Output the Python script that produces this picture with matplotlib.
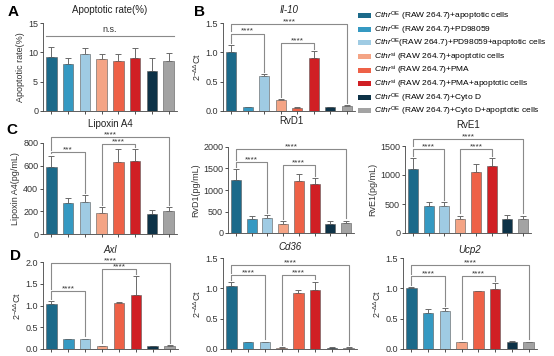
import matplotlib
matplotlib.use("Agg")
import matplotlib.pyplot as plt
import numpy as np
from matplotlib.patches import Patch

plt.rcParams["font.family"] = ["Liberation Sans", "DejaVu Sans"]
plt.rcParams["mathtext.fontset"] = "custom"
plt.rcParams["mathtext.rm"] = "Liberation Sans"
plt.rcParams["mathtext.it"] = "Liberation Sans:italic"
plt.rcParams["mathtext.bf"] = "Liberation Sans:bold"

# ---- data ----
groups = [
    r"$\mathit{Cthr}^{\mathrm{OE}}$ (RAW 264.7)+apoptotic cells",
    r"$\mathit{Cthr}^{\mathrm{OE}}$ (RAW 264.7)+PD98059",
    r"$\mathit{Cthr}^{\mathrm{OE}}$(RAW 264.7)+PD98059+apoptotic cells",
    r"$\mathit{Cthr}^{\mathrm{si}}$ (RAW 264.7)+apoptotic cells",
    r"$\mathit{Cthr}^{\mathrm{si}}$ (RAW 264.7)+PMA",
    r"$\mathit{Cthr}^{\mathrm{si}}$ (RAW 264.7)+PMA+apoptotic cells",
    r"$\mathit{Cthr}^{\mathrm{OE}}$ (RAW 264.7)+Cyto D",
    r"$\mathit{Cthr}^{\mathrm{OE}}$ (RAW 264.7)+Cyto D+apoptotic cells",
]
colors = ["#1c6a8a", "#3599c2", "#9fcbe3", "#f4a485", "#ee6147",
          "#d01f24", "#0d3247", "#a3a3a3"]

apop_mean = [9.15, 7.95, 9.7, 8.8, 8.55, 8.95, 6.75, 8.5]
apop_err = [1.8, 1.0, 1.1, 0.85, 1.1, 1.75, 2.2, 1.45]

il10_mean = [1.0, 0.06, 0.60, 0.18, 0.05, 0.91, 0.06, 0.08]
il10_err = [0.13, 0.01, 0.03, 0.02, 0.01, 0.11, 0.01, 0.02]

lxa4_mean = [590, 270, 280, 185, 630, 645, 175, 200]
lxa4_err = [100, 45, 60, 50, 115, 100, 40, 35]

rvd1_mean = [1230, 330, 360, 220, 1200, 1150, 220, 230]
rvd1_err = [250, 70, 60, 60, 170, 130, 70, 60]

rve1_mean = [1100, 470, 460, 240, 1060, 1150, 250, 240]
rve1_err = [185, 70, 70, 60, 130, 140, 60, 60]

axl_mean = [1.04, 0.23, 0.23, 0.07, 1.05, 1.25, 0.07, 0.07]
axl_err = [0.06, 0.01, 0.01, 0.01, 0.02, 0.42, 0.01, 0.02]

cd36_mean = [1.04, 0.11, 0.11, 0.02, 0.92, 0.98, 0.02, 0.02]
cd36_err = [0.06, 0.01, 0.01, 0.005, 0.06, 0.13, 0.01, 0.01]

ucp2_mean = [1.0, 0.60, 0.63, 0.11, 0.95, 0.99, 0.12, 0.11]
ucp2_err = [0.02, 0.06, 0.04, 0.01, 0.01, 0.09, 0.01, 0.01]

DDCT = r"2$^{-\Delta\Delta}$Ct"

# (title, italic, ylabel, mean, err, yticks, brackets[(i, j, y, label)])
panels = {
    "A": ("Apoptotic rate(%)", False, "Apoptotic rate(%)", apop_mean, apop_err,
          [0, 5, 10, 15], [(0, 7, 12.8, "n.s.")]),
    "B": ("Il-10", True, DDCT, il10_mean, il10_err, [0.0, 0.5, 1.0, 1.5],
          [(0, 2, 1.32, "****"), (3, 5, 1.16, "****"), (0, 7, 1.48, "****")]),
    "C1": ("Lipoxin A4", False, "Lipoxin A4(pg/mL)", lxa4_mean, lxa4_err,
           [0, 200, 400, 600, 800],
           [(0, 2, 720, "***"), (3, 5, 790, "****"), (0, 7, 850, "****")]),
    "C2": ("RvD1", False, "RvD1(pg/mL)", rvd1_mean, rvd1_err,
           [0, 500, 1000, 1500, 2000],
           [(0, 2, 1640, "****"), (3, 5, 1580, "****"), (0, 7, 1946, "****")]),
    "C3": ("RvE1", False, "RvE1(pg/mL)", rve1_mean, rve1_err,
           [0, 500, 1000, 1500],
           [(0, 2, 1455, "****"), (3, 5, 1455, "****"), (0, 7, 1625, "****")]),
    "D1": ("Axl", True, DDCT, axl_mean, axl_err, [0.0, 0.5, 1.0, 1.5, 2.0],
           [(0, 2, 1.33, "****"), (3, 5, 1.83, "****"), (0, 7, 1.98, "****")]),
    "D2": ("Cd36", True, DDCT, cd36_mean, cd36_err, [0.0, 0.5, 1.0, 1.5],
           [(0, 2, 1.22, "****"), (3, 5, 1.22, "****"), (0, 7, 1.39, "****")]),
    "D3": ("Ucp2", True, DDCT, ucp2_mean, ucp2_err, [0.0, 0.5, 1.0, 1.5],
           [(0, 2, 1.20, "****"), (3, 5, 1.20, "****"), (0, 7, 1.38, "****")]),
}

W, H = 554, 356
# axes rects in pixels: left, top, right, bottom, title y
rects = {
    "A": (43, 23, 177, 111, 10),
    "B": (223, 23, 355, 111, 10),
    "C1": (43, 143, 177, 234, 124),
    "C2": (228, 147, 354, 233, 121),
    "C3": (405, 146, 531, 233, 125),
    "D1": (43, 262, 178, 349, 250),
    "D2": (223, 258, 357, 349, 247),
    "D3": (403, 258, 537, 349, 250),
}

fig = plt.figure(figsize=(W / 100, H / 100), dpi=100)

LINE = "#8a8a8a"

for key, (title, italic, ylabel, mean, err, yticks, brackets) in panels.items():
    l, t, r, b, ty = rects[key]
    ax = fig.add_axes([l / W, 1 - b / H, (r - l) / W, (b - t) / H])
    x = np.arange(len(mean))
    mean = np.array(mean, dtype=float)
    err = np.array(err, dtype=float)
    ax.bar(x, mean, width=0.62, color=colors, edgecolor="#5a5a5a", linewidth=0.4, zorder=2)
    ax.errorbar(x, mean, yerr=[np.zeros_like(err), err], fmt="none",
                ecolor="#6a6a6a", elinewidth=0.7, capsize=2, capthick=0.7, zorder=1)
    ax.set_xlim(-0.5, 7.5)
    ymax = yticks[-1]
    ax.set_ylim(0, ymax)
    ax.set_yticks(yticks)
    if isinstance(yticks[1], float):
        ax.set_yticklabels([f"{v:.1f}" for v in yticks])
    ax.set_xticks(x)
    ax.set_xticklabels([])
    for s in ("top", "right"):
        ax.spines[s].set_visible(False)
    for s in ("left", "bottom"):
        ax.spines[s].set_linewidth(0.6)
        ax.spines[s].set_color("#444444")
    ax.tick_params(labelsize=6.5, length=2, width=0.6, pad=1.5, colors="#333333")
    ax.set_ylabel(ylabel, fontsize=6.5, labelpad=2, color="#333333")
    fig.text((l + r) / 2 / W, 1 - ty / H, title, fontsize=7, ha="center", va="center",
             style="italic" if italic else "normal", color="#222222")

    pad = 0.025 * ymax
    tops = mean + err
    done = []
    for i, j, y, lab in brackets:
        legs = []
        for k in (i, j):
            base = tops[k]
            for (bi, bj, by) in done:
                if bi <= k <= bj and by < y:
                    base = max(base, by)
            legs.append(base + pad)
        if lab == "n.s.":
            ax.plot([i - 0.3, j + 0.3], [y, y], color=LINE, lw=0.8, clip_on=False)
            ax.text((i + j) / 2, y + 0.02 * ymax, lab, ha="center", va="bottom",
                    fontsize=6.5, color="#333333")
        else:
            ax.plot([i, i, j, j], [legs[0], y, y, legs[1]], color=LINE, lw=0.8,
                    clip_on=False)
            ax.text((i + j) / 2, y - 0.015 * ymax, lab, ha="center", va="bottom",
                    fontsize=6, color="#333333")
        done.append((i, j, y))

# panel letters
for lab, (px, py) in {"A": (8, 12), "B": (194, 12), "C": (6, 130), "D": (10, 256)}.items():
    fig.text(px / W, 1 - py / H, lab, fontsize=11, fontweight="bold", va="center")

handles = [Patch(facecolor=c, edgecolor="none") for c in colors]
fig.legend(handles, groups, loc="upper left", bbox_to_anchor=(358 / W, 1 - 10 / H),
           frameon=False, fontsize=6, handlelength=1.6, handleheight=0.55,
           handletextpad=0.3, labelspacing=0.03, borderaxespad=0, borderpad=0)

fig.savefig("out.png", dpi=100)
